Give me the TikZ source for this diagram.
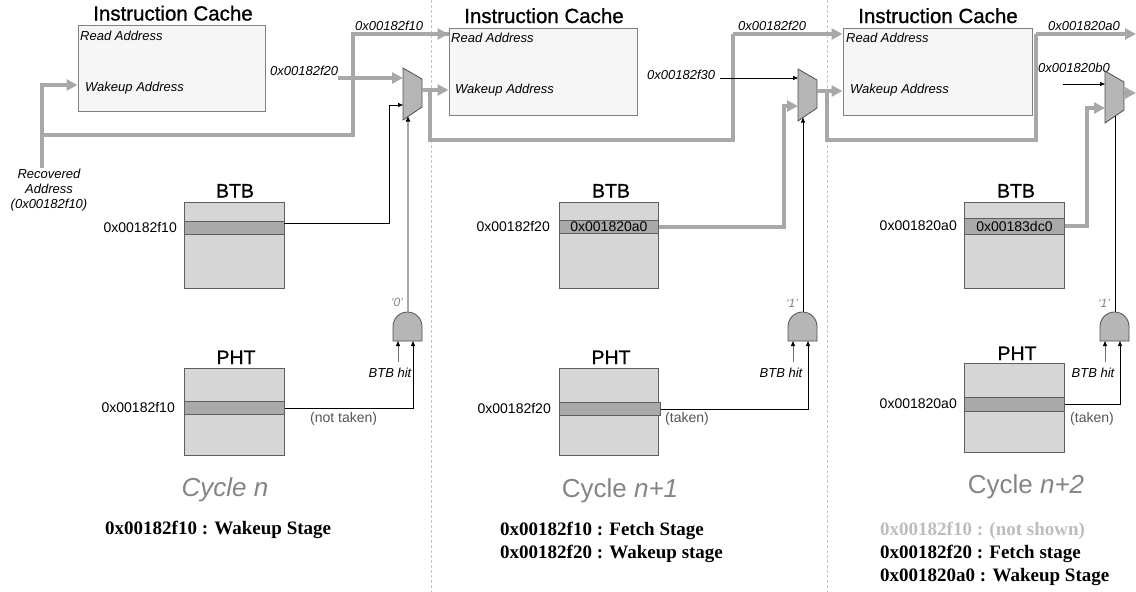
\documentclass[tikz,border=0pt]{standalone}
\usepackage{fontspec}
\setmainfont{Liberation Sans}
\newfontfamily\timesf{Liberation Serif}
\newfontfamily\sanshv{Liberation Sans}[FakeBold=0.9]
\usetikzlibrary{arrows.meta}
\definecolor{busgray}{HTML}{A8A8A8}
\definecolor{cachefill}{HTML}{F6F6F6}
\definecolor{cachedraw}{HTML}{808080}
\definecolor{tablefill}{HTML}{D6D6D6}
\definecolor{tabledraw}{HTML}{5E5E5E}
\definecolor{rowfill}{HTML}{A9A9A9}
\definecolor{muxfill}{HTML}{B6B6B6}
\definecolor{muxdraw}{HTML}{4E4E4E}
\definecolor{cyclegray}{HTML}{858585}
\definecolor{faintgray}{HTML}{BDBDBD}
\definecolor{dashgray}{HTML}{C4C4C4}
\definecolor{hitgray}{HTML}{6E6E6E}
\definecolor{notegray}{HTML}{555555}
\newcommand\andshape[1]{\draw[andst] (#1,341) -- (#1,326.5) .. controls (#1,318.5) and (#1+6.5,312) .. (#1+14.5,312) .. controls (#1+22.5,312) and (#1+29,318.5) .. (#1+29,326.5) -- (#1+29,341) -- cycle;}
\begin{document}
\begin{tikzpicture}[x=1pt,y=-1pt,
  bus/.style={line width=4pt, draw=busgray, -{Triangle[length=11pt,width=11pt]}},
  busplain/.style={line width=4pt, draw=busgray},
  wire/.style={line width=0.8pt, draw=black, -{Triangle[length=5pt,width=4pt]}},
  plainwire/.style={line width=0.8pt, draw=black},
  selgray/.style={line width=1.6pt, draw=busgray, -{Triangle[length=5pt,width=4.5pt,color=black]}},
  hit/.style={line width=0.8pt, draw=hitgray, -{Triangle[length=5pt,width=4pt,color=black]}},
  sep/.style={line width=0.8pt, draw=dashgray, dash pattern=on 3pt off 2pt},
  cache/.style={draw=cachedraw, fill=cachefill, line width=0.8pt, inner sep=0pt, anchor=north west},
  tbl/.style={draw=tabledraw, fill=tablefill, line width=0.8pt, inner sep=0pt, anchor=north west},
  tblrow/.style={draw=tabledraw, fill=rowfill, line width=0.8pt, inner sep=0pt, anchor=north west, font=\fontsize{14}{16}\selectfont},
  muxst/.style={draw=muxdraw, fill=muxfill, line width=0.8pt},
  andst/.style={draw=muxdraw, fill=muxfill, line width=0.8pt},
  ttl/.style={font=\fontsize{20.5}{22}\selectfont\sanshv, inner sep=0pt, anchor=base},
  tblttl/.style={font=\fontsize{19.5}{21}\selectfont\sanshv, inner sep=0pt, anchor=base},
  itlab/.style={font=\fontsize{13}{15}\selectfont\itshape, inner sep=0pt, anchor=base west},
  addr/.style={font=\fontsize{14}{16}\selectfont, inner sep=0pt, anchor=east},
  note/.style={font=\fontsize{14}{16}\selectfont, inner sep=0pt, anchor=west, text=notegray},
  hitlab/.style={font=\fontsize{13}{15}\selectfont\itshape, inner sep=0pt, anchor=base},
  bitlab/.style={font=\fontsize{12}{14}\selectfont\itshape, inner sep=0pt, text=cyclegray},
  cyc/.style={font=\fontsize{26}{30}\selectfont, inner sep=0pt, anchor=base, text=cyclegray},
  stage/.style={font=\fontsize{19}{23}\selectfont\timesf\bfseries, inner sep=0pt, anchor=base west}
]
\useasboundingbox (0,0) rectangle (1136,592);

% separators
\draw[sep] (431,0) -- (431,592);
\draw[sep] (827,0) -- (827,592);

% ---------------- coordinates ----------------
\coordinate (r0) at (42,168);
\coordinate (r1) at (42,135);
\coordinate (ic1wk) at (77.5,85);
\coordinate (ic2rd) at (448.5,34);
\coordinate (ic2wk) at (448.5,90);
\coordinate (ic3rd) at (842.5,34);
\coordinate (ic3wk) at (842.5,91);
\coordinate (f20s) at (338,78);
\coordinate (f30s) at (720,78);
\coordinate (b0s) at (1063,84);
\coordinate (brA) at (430,90);
\coordinate (brB) at (827,91);
\coordinate (endA) at (1136,34);
\coordinate (endB) at (1136,93);
\coordinate (b1o) at (284,223);

% mux coordinates
\coordinate (m1a) at (403,78);   \coordinate (m1b) at (403,105);  \coordinate (m1o) at (422,90);  \coordinate (m1s) at (408,116.6);
\coordinate (m2a) at (798,78);   \coordinate (m2b) at (798,106);  \coordinate (m2o) at (817,91);  \coordinate (m2s) at (803,117.6);
\coordinate (m3a) at (1105,84);  \coordinate (m3b) at (1105,108); \coordinate (m3o) at (1124,93); \coordinate (m3s) at (1115,116.2);
% and gate coordinates
\coordinate (a1a) at (398,341);  \coordinate (a1b) at (413,341);  \coordinate (a1o) at (408,312);
\coordinate (a2a) at (793,341);  \coordinate (a2b) at (808,341);  \coordinate (a2o) at (803,312);
\coordinate (a3a) at (1105,341); \coordinate (a3b) at (1120,341); \coordinate (a3o) at (1115,312);

% ---------------- panel 1 ----------------
\node[cache, minimum width=187, minimum height=86] (ic1) at (78,25) {};
\node[ttl] (ttl1) at (173,20.5) {Instruction Cache};
\node[itlab] (rd1) at (80,40) {Read Address};
\node[itlab] (wk1) at (85,91) {Wakeup Address};
\node[itlab] (top1) at (355,30) {0x00182f10};
\node[itlab] (in1) at (270,75) {0x00182f20};
\node[font=\fontsize{13}{15}\selectfont\itshape, inner sep=0pt, anchor=north, align=center] (rec) at (49,169) {Recovered\\Address\\(0x00182f10)};

\node[tbl, minimum width=100, minimum height=86] (btb1) at (184,202) {};
\node[tblrow, minimum width=100, minimum height=13] (btbrow1) at (184,221) {};
\node[tblttl] (btbt1) at (235,197.5) {BTB};
\node[addr] (btbl1) at (177,227.5) {0x00182f10};
\node[tbl, minimum width=100, minimum height=87] (pht1) at (184,368) {};
\node[tblrow, minimum width=100, minimum height=13] (phtrow1) at (184,401) {};
\node[tblttl] (phtt1) at (236,364) {PHT};
\node[addr] (phtl1) at (175,407.5) {0x00182f10};
\node[note] (nt1) at (310,419) {(not taken)};

\draw[muxst] (403,68) -- (422,79) -- (422,107) -- (403,120) -- cycle;
\andshape{393}
\node[bitlab] (bit1) at (397,302) {`0'};
\node[hitlab] (hit1) at (390,377) {BTB hit};

\draw[bus] (r0) |- (ic1wk);
\draw[busplain] (r1) -| (353,34) -- (ic2rd);
\draw[bus] (353,34) -- (ic2rd);
\draw[bus] (f20s) -- (m1a);
\draw[wire] (b1o) -| (389,105) -- (m1b);
\draw[wire] (phtrow1.east) -| (a1b);
\draw[hit] ([yshift=-21pt]a1a) -- (a1a);
\draw[selgray] (a1o) -- (m1s);
\draw[bus] (m1o) -- (ic2wk);
\draw[busplain] (brA) |- (733,140) -- (733,34);
\draw[bus] (733,34) -- (ic3rd);

\node[cyc] (cyc1) at (225,496) {\itshape Cycle n};
\node[stage] (st1) at (105,534) {0x00182f10 : Wakeup Stage};

% ---------------- panel 2 ----------------
\node[cache, minimum width=188, minimum height=87] (ic2) at (449,28) {};
\node[ttl] (ttl2) at (544,23) {Instruction Cache};
\node[itlab] (rd2) at (451,42) {Read Address};
\node[itlab] (wk2) at (455,93) {Wakeup Address};
\node[itlab] (top2) at (738,30) {0x00182f20};
\node[itlab] (in2) at (647,79) {0x00182f30};

\node[tbl, minimum width=99, minimum height=86] (btb2) at (559,202) {};
\node[tblrow, minimum width=99, minimum height=13] (btbrow2) at (559,220) {0x001820a0};
\node[tblttl] (btbt2) at (611,197.5) {BTB};
\node[addr] (btbl2) at (550,226.5) {0x00182f20};
\node[tbl, minimum width=99, minimum height=87] (pht2) at (559,368) {};
\node[tblrow, minimum width=101, minimum height=13] (phtrow2) at (559,402) {};
\node[tblttl] (phtt2) at (611,364) {PHT};
\node[addr] (phtl2) at (551,408.5) {0x00182f20};
\node[note] (nt2) at (665,419) {(taken)};

\draw[muxst] (798,69) -- (817,80) -- (817,108) -- (798,121) -- cycle;
\andshape{788}
\node[bitlab] (bit2) at (792,303) {`1'};
\node[hitlab] (hit2) at (781,377) {BTB hit};

\draw[wire] (f30s) -- (m2a);
\draw[bus] (btbrow2.east) -| (784,106) -- (m2b);
\draw[wire] (phtrow2.east) -| (a2b);
\draw[hit] ([yshift=-21pt]a2a) -- (a2a);
\draw[wire] (a2o) -- (m2s);
\draw[bus] (m2o) -- (ic3wk);
\draw[busplain] (brB) |- (1036,140) -- (1036,34);
\draw[bus] (1036,34) -- (endA);

\node[cyc] (cyc2) at (620,497) {Cycle \textit{n+1}};
\node[stage] (st2a) at (500,535) {0x00182f10 : Fetch Stage};
\node[stage] (st2b) at (500,558) {0x00182f20 : Wakeup stage};

% ---------------- panel 3 ----------------
\node[cache, minimum width=189, minimum height=87] (ic3) at (843,28) {};
\node[ttl] (ttl3) at (938,23) {Instruction Cache};
\node[itlab] (rd3) at (846,42) {Read Address};
\node[itlab] (wk3) at (850,93) {Wakeup Address};
\node[itlab] (top3) at (1048,30) {0x001820a0};
\node[itlab] (in3) at (1038,72) {0x001820b0};

\node[tbl, minimum width=100, minimum height=86] (btb3) at (964,202) {};
\node[tblrow, minimum width=100, minimum height=16] (btbrow3) at (964,218) {0x00183dc0};
\node[tblttl] (btbt3) at (1016,197.5) {BTB};
\node[addr] (btbl3) at (957,226) {0x001820a0};
\node[tbl, minimum width=100, minimum height=89] (pht3) at (964,363) {};
\node[tblrow, minimum width=100, minimum height=14] (phtrow3) at (964,397) {};
\node[tblttl] (phtt3) at (1017,360) {PHT};
\node[addr] (phtl3) at (957,404) {0x001820a0};
\node[note] (nt3) at (1070,419) {(taken)};

\draw[muxst] (1105,71) -- (1124,82) -- (1124,110) -- (1105,123) -- cycle;
\andshape{1100}
\node[bitlab] (bit3) at (1104,303) {`1'};
\node[hitlab] (hit3) at (1093,377) {BTB hit};

\draw[wire] (b0s) -- (m3a);
\draw[bus] (btbrow3.east) -| (1087,108) -- (m3b);
\draw[wire] (phtrow3.east) -| (a3b);
\draw[hit] ([yshift=-21pt]a3a) -- (a3a);
\draw[plainwire] (a3o) -- (m3s);
\draw[bus] (m3o) -- (endB);

\node[cyc] (cyc3) at (1026,493) {Cycle \textit{n+2}};
\node[stage, text=faintgray] (st3a) at (880,535) {0x00182f10 : (not shown)};
\node[stage] (st3b) at (880,558) {0x00182f20 : Fetch stage};
\node[stage] (st3c) at (880,581) {0x001820a0 : Wakeup Stage};
\end{tikzpicture}
\end{document}
